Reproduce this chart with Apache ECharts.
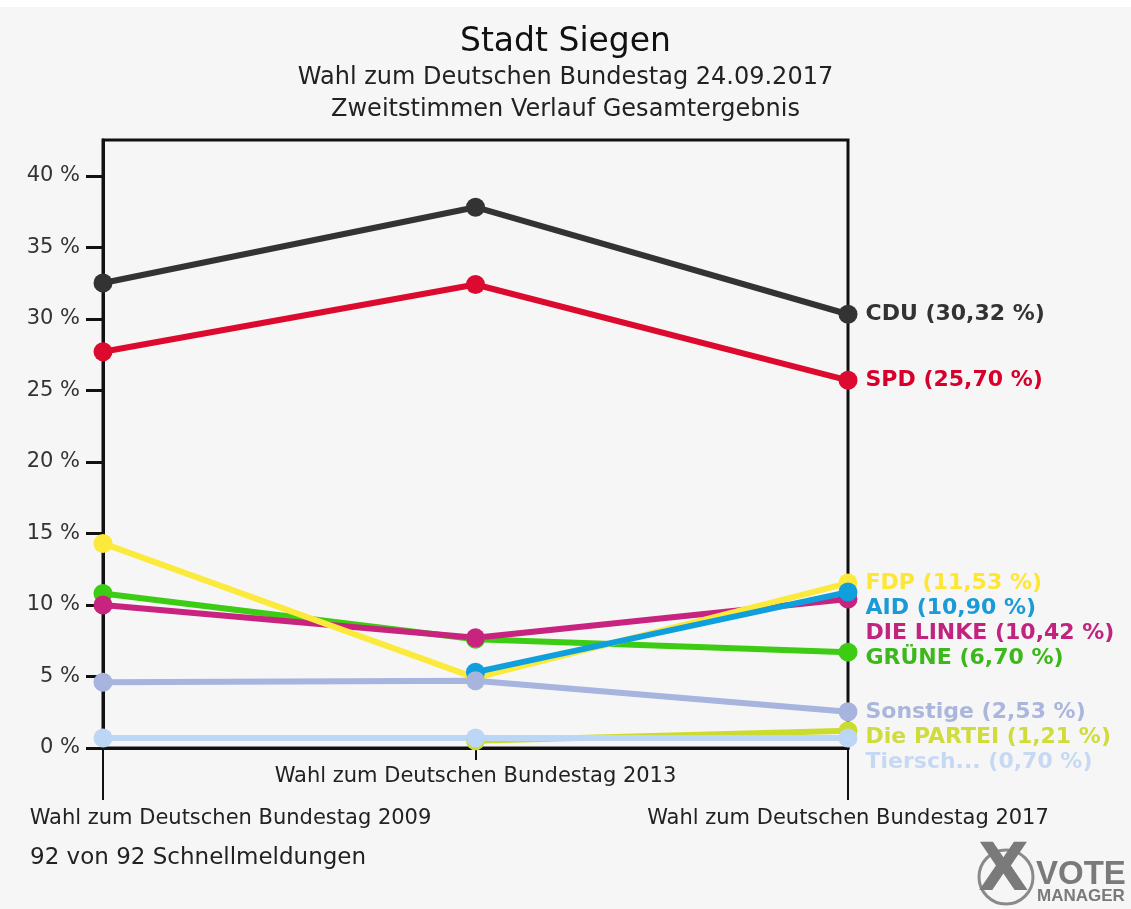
<!DOCTYPE html>
<html>
<head>
<meta charset="utf-8">
<script src="https://cdn.jsdelivr.net/npm/echarts@6/dist/echarts.min.js"></script>
<style>
  html, body { margin: 0; padding: 0; background: #fff; }
  #chart { width: 1131px; height: 909px; }
</style>
</head>
<body>
<div id="chart"></div>
<script>
//Kategorien (Wahlen)
var categories = [
    'Wahl zum Deutschen Bundestag 2009',
    'Wahl zum Deutschen Bundestag 2013',
    'Wahl zum Deutschen Bundestag 2017'
];
var yTicks = [0, 5, 10, 15, 20, 25, 30, 35, 40];

//Zweitstimmen in %, je Partei
var parties   = ['CDU', 'SPD', 'GRÜNE', 'DIE LINKE', 'FDP', 'AID', 'Sonstige', 'Die PARTEI', 'Tiersch...'];
var cdu       = [32.5, 37.8, 30.32];
var spd       = [27.7, 32.4, 25.70];
var gruene    = [10.8, 7.6, 6.70];
var linke     = [10.0, 7.7, 10.42];
var fdp       = [14.3, 4.9, 11.53];
var aid       = [null, 5.3, 10.90];
var sonstige  = [4.6, 4.7, 2.53];
var partei    = [null, 0.5, 1.21];
var tiersch   = [0.7, 0.7, 0.70];
var values    = [cdu, spd, gruene, linke, fdp, aid, sonstige, partei, tiersch];

var lineColors  = ['#333333', '#dd0a2f', '#3ccc14', '#c8247f', '#fbe93c', '#0e9fdc', '#a6b4de', '#cbdc2e', '#bcd6f6'];
var labelColors = ['#333333', '#d8002a', '#3cb81c', '#c0247f', '#ffe630', '#1a9ad6', '#aab6dc', '#cfdc3a', '#c7d9f2'];

var FONT = 'DejaVu Sans';
var chart = echarts.init(document.getElementById('chart'));

/**
 * Serien bauen, offsets = vertikale Verschiebung der Endbeschriftung
 */
function buildSeries(offsets) {
    return values.map(function (arr, s) {
        var last = arr.length - 1;
        return {
            name : parties[s],
            type : 'line',
            color : lineColors[s],
            symbol : 'circle',
            symbolSize : 19,
            showAllSymbol : true,
            connectNulls : false,
            lineStyle : { width: 6, color: lineColors[s] },
            itemStyle : { color: lineColors[s] },
            emphasis : { disabled: true },
            data : arr.map(function (v, i) {
                if (i !== last) return v;
                return {
                    value : v,
                    label : {
                        show : true,
                        position : 'right',
                        distance : 8,
                        offset : [0, offsets ? offsets[s] : 0],
                        color : labelColors[s],
                        fontFamily : FONT,
                        fontWeight : 'bold',
                        fontSize : 22,
                        formatter : function (p) {
                            return parties[s] + ' (' + p.value.toFixed(2).replace('.', ',') + ' %)';
                        }
                    }
                };
            })
        };
    });
}

var option = {
    backgroundColor : '#f6f6f6',
    animation : false,
    title : {
        left : 'center',
        top : 19,
        text : 'Stadt Siegen',
        subtext : 'Wahl zum Deutschen Bundestag 24.09.2017\nZweitstimmen Verlauf Gesamtergebnis',
        itemGap : 2,
        textStyle : { fontFamily: FONT, fontSize: 33, lineHeight: 36, fontWeight: 'normal', color: '#111' },
        subtextStyle : { fontFamily: FONT, fontSize: 24, lineHeight: 32, color: '#222' }
    },
    grid : {
        left : 103, right : 283, top : 140, bottom : 161,
        containLabel : false,
        outerBoundsMode : 'none',
        show : true, borderColor : '#111', borderWidth : 3, backgroundColor : 'transparent'
    },
    xAxis : [{
        type : 'category',
        data : categories,
        boundaryGap : false,
        axisLine : { lineStyle: { color: '#111', width: 3 } },
        axisTick : { length: 12, lineStyle: { color: '#111', width: 2 } },
        axisLabel : {
            interval : 0,
            margin : 18,
            fontFamily : FONT,
            fontSize : 21,
            lineHeight : 21,
            color : '#222',
            formatter : function (v, i) {
                if (i === 1) return '{t|' + v + '}';
                //2009 / 2017 zwei Zeilen tiefer, 2009 nach rechts gerückt
                return '{t| }\n{t| }\n' + (i === 0 ? '{sp|}' : '') + '{t|' + v + '}';
            },
            rich : {
                t  : { fontFamily: FONT, fontSize: 21, lineHeight: 21, color: '#222' },
                sp : { width: 255 }
            }
        }
    }, {
        type : 'category',
        data : categories,
        boundaryGap : false,
        position : 'bottom',
        axisLine : { show: false },
        axisTick : {
            length : 52,
            interval : function (i) { return i !== 1; },
            lineStyle : { color: '#111', width: 2 }
        },
        axisLabel : { show: false }
    }],
    yAxis : {
        type : 'value',
        min : 0,
        max : 42.5,
        interval : 5,
        splitLine : { show: false },
        axisLine : { show: true, lineStyle: { color: '#111', width: 3 } },
        axisTick : { show: true, length: 17, customValues: yTicks, lineStyle: { color: '#111', width: 3 } },
        axisLabel : {
            customValues : yTicks,
            margin : 23,
            fontFamily : FONT,
            fontSize : 21,
            color : '#333',
            formatter : function (v) { return v + ' %'; }
        }
    },
    graphic : [{
        type : 'rect',
        shape : { x: 0, y: 0, width: 1131, height: 7 },
        style : { fill: '#ffffff' }
    }, {
        type : 'text',
        left : 30,
        top : 847,
        style : { text: '92 von 92 Schnellmeldungen', fontFamily: FONT, fontSize: 23, fill: '#222' }
    }, {
        type : 'circle',
        shape : { cx: 1006, cy: 877, r: 27 },
        style : { fill: 'none', stroke: '#8a8a8a', lineWidth: 3 }
    }, {
        type : 'text',
        left : 978,
        top : 840,
        style : { text: 'X', fontFamily: FONT, fontWeight: 'bold', fontSize: 66, fill: '#7a7a7a' }
    }, {
        type : 'text',
        left : 1036,
        top : 858,
        style : { text: 'VOTE', fontFamily: 'Liberation Sans', fontWeight: 'bold', fontSize: 33, fill: '#7a7a7a' }
    }, {
        type : 'text',
        left : 1037,
        top : 888,
        style : { text: 'MANAGER', fontFamily: 'Liberation Sans', fontWeight: 'bold', fontSize: 17, fill: '#7a7a7a' }
    }],
    series : buildSeries(null)
};

chart.setOption(option);

//Endbeschriftungen nach unten schieben, damit sie sich nicht überlappen
var GAP = 25;
var lastY = values.map(function (arr) {
    return chart.convertToPixel({ yAxisIndex: 0 }, arr[arr.length - 1]);
});
var order = values.map(function (a, i) { return i; }).sort(function (a, b) { return lastY[a] - lastY[b]; });
var offsets = [], prev = -Infinity;
order.forEach(function (s) {
    var y = Math.max(lastY[s], prev + GAP);
    offsets[s] = y - lastY[s];
    prev = y;
});
chart.setOption({ series: buildSeries(offsets) });
</script>
</body>
</html>
